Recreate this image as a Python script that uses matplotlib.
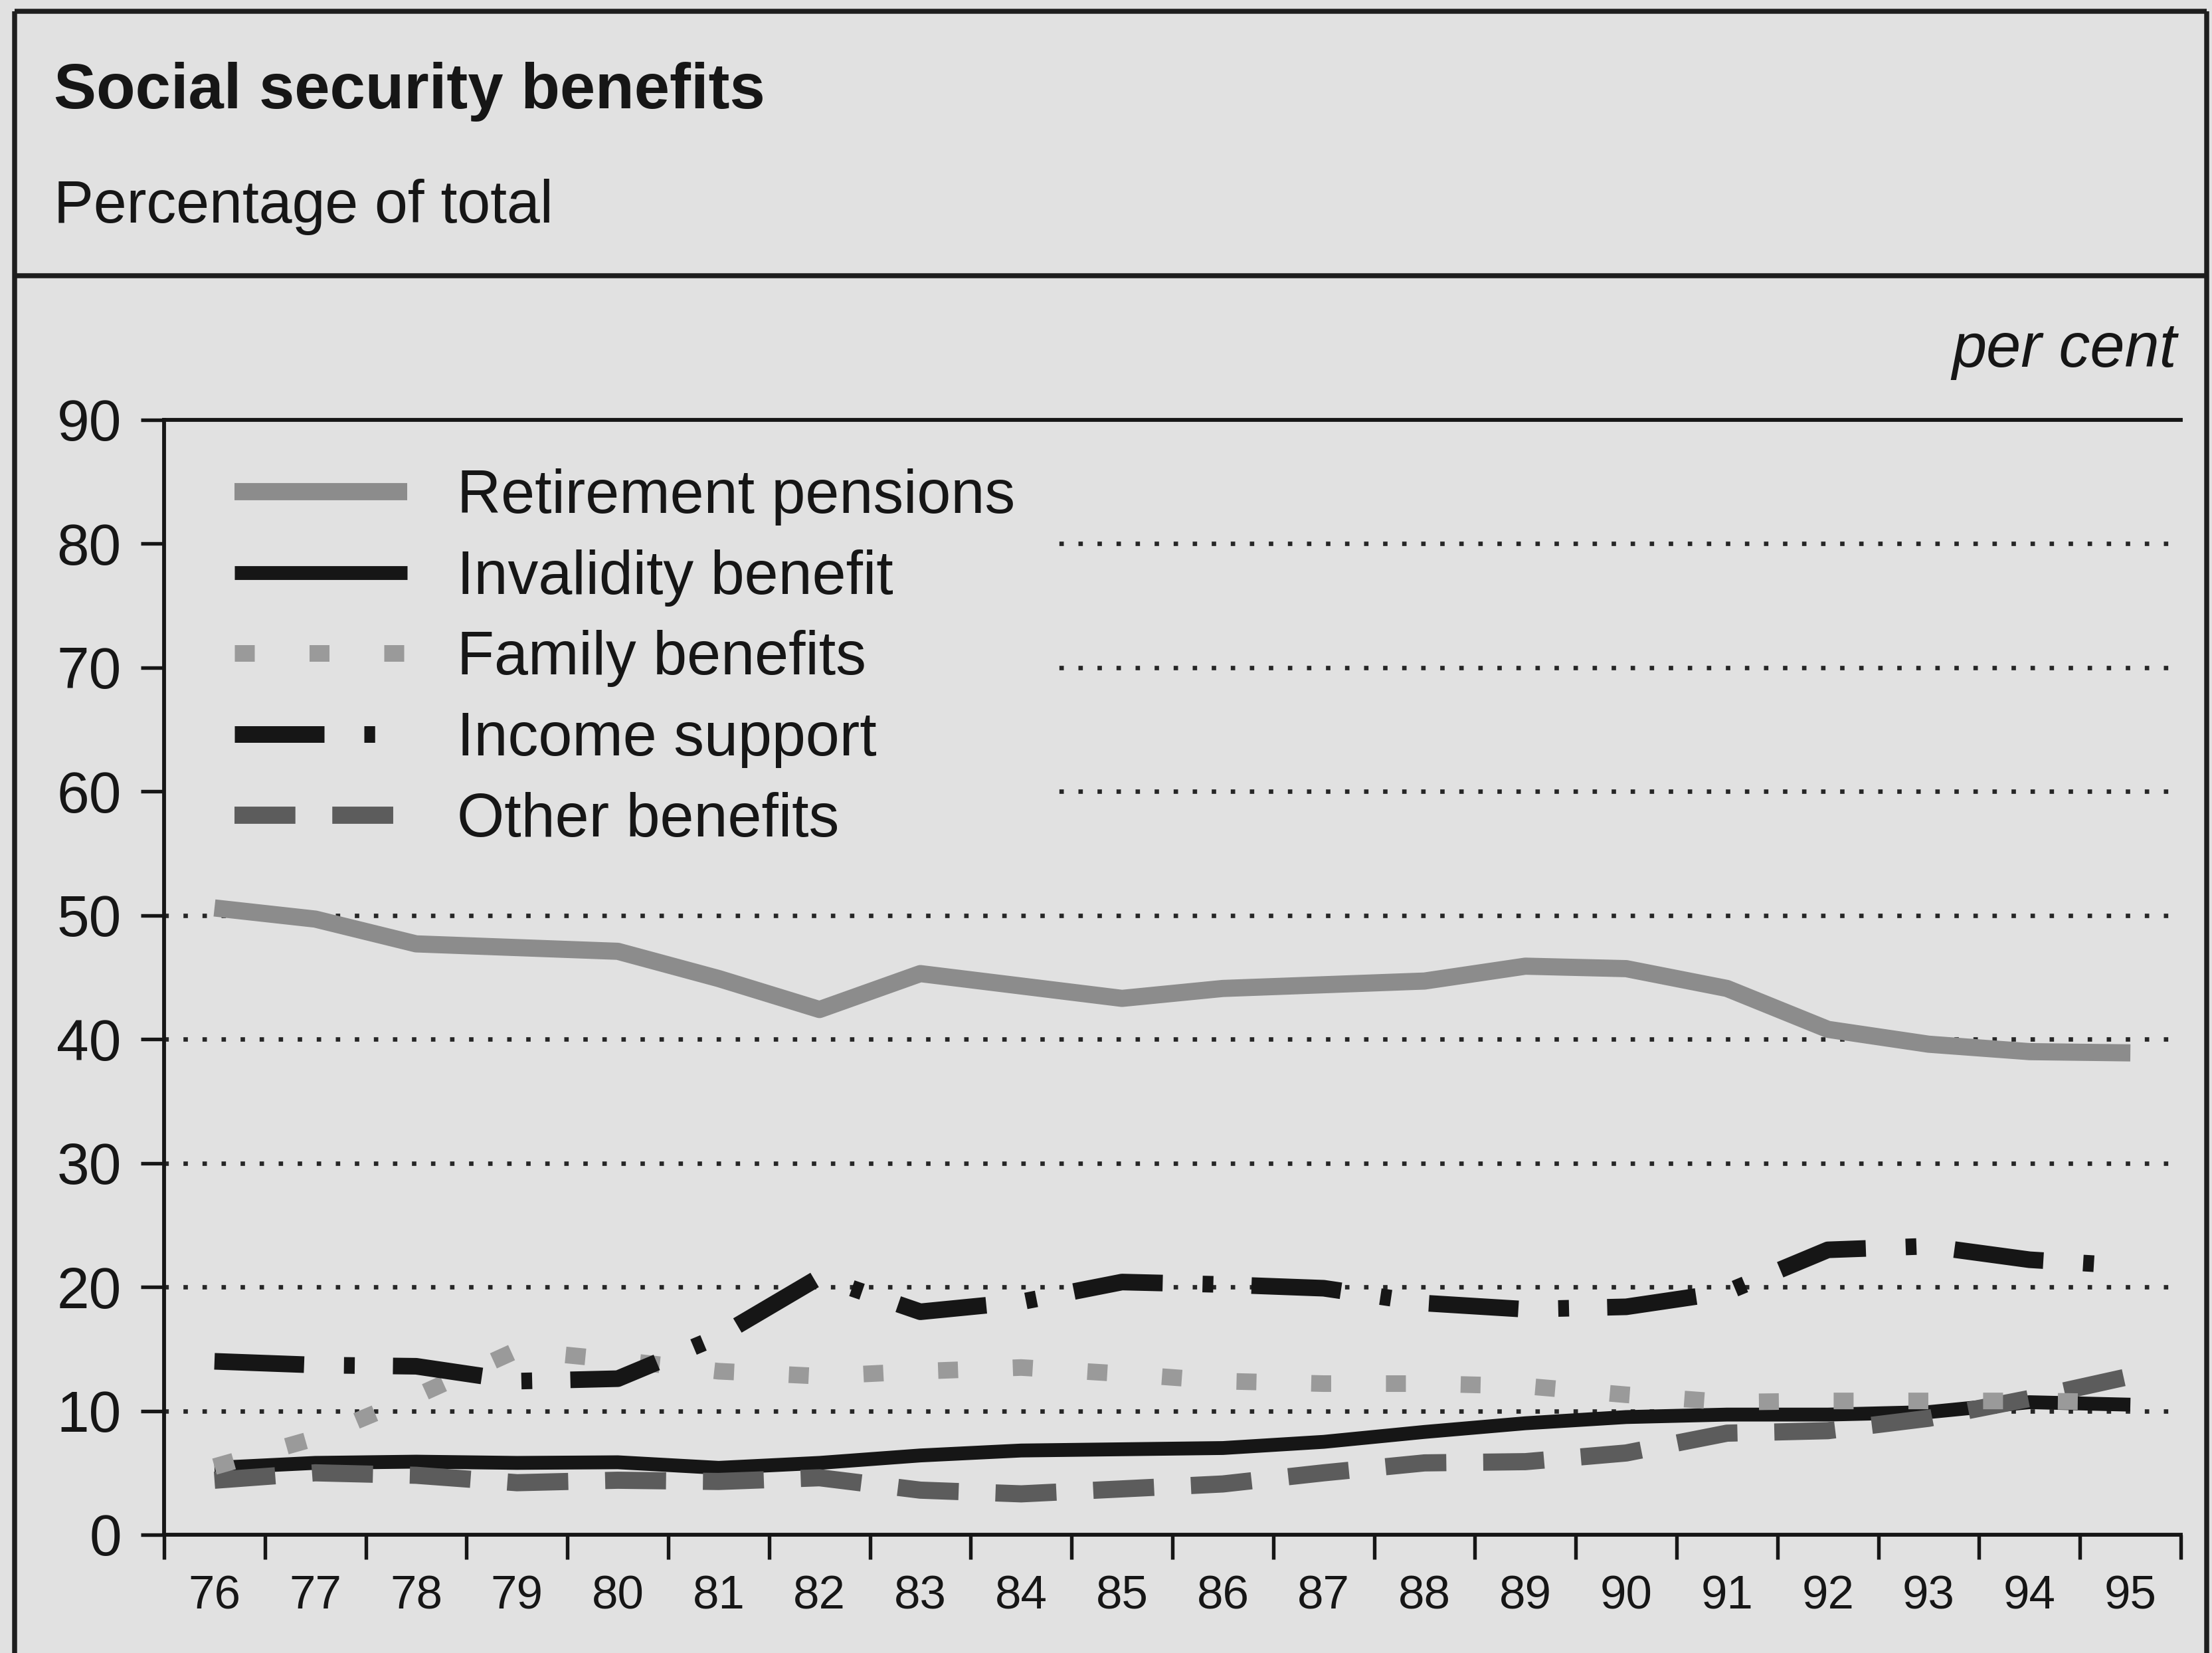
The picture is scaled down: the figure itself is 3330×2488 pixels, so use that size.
import matplotlib
matplotlib.use('Agg')
import matplotlib.pyplot as plt
from matplotlib.patches import Rectangle
from matplotlib.lines import Line2D

# ---------------- data ----------------
years = list(range(76, 96))
year_labels = [str(y) for y in years]
y_ticks = [0, 10, 20, 30, 40, 50, 60, 70, 80, 90]

retirement = [50.6, 49.7, 47.7, 47.4, 47.1, 44.9, 42.4, 45.3, 44.3, 43.3,
              44.1, 44.4, 44.7, 45.9, 45.7, 44.1, 40.8, 39.6, 39.0, 38.9]
invalidity = [5.4, 5.8, 5.9, 5.8, 5.85, 5.4, 5.8, 6.4, 6.8, 6.9,
              7.0, 7.5, 8.3, 9.0, 9.5, 9.7, 9.7, 9.9, 10.7, 10.5]
family = [5.5, 7.8, 11.2, 14.9, 14.1, 13.2, 12.8, 13.2, 13.5, 13.0,
          12.4, 12.2, 12.2, 12.0, 11.3, 10.7, 10.8, 10.8, 10.8, 10.7]
income = [14.0, 13.7, 13.6, 12.4, 12.6, 16.0, 20.8, 18.0, 18.8, 20.4,
          20.2, 19.9, 18.7, 18.2, 18.4, 19.6, 23.0, 23.3, 22.2, 21.7]
other = [4.4, 5.0, 4.8, 4.2, 4.4, 4.3, 4.6, 3.6, 3.3, 3.7,
         4.1, 5.0, 5.8, 5.9, 6.6, 8.2, 8.4, 9.4, 11.0, 12.8]

names = ["Retirement pensions", "Invalidity benefit", "Family benefits",
         "Income support", "Other benefits"]

title = "Social security benefits"
subtitle = "Percentage of total"
unit = "per cent"

# ---------------- style ----------------
BG = '#e1e1e1'
INK = '#161616'
W, H, DPI = 3330, 2488, 300
plt.rcParams['font.family'] = ['Liberation Sans', 'DejaVu Sans']
plt.rcParams['lines.dash_capstyle'] = 'butt'
plt.rcParams['lines.solid_capstyle'] = 'butt'

fig = plt.figure(figsize=(W / DPI, H / DPI), dpi=DPI, facecolor=BG)


def fx(px):
    return px / W


def fy(py):
    return 1 - py / H


ax = fig.add_axes([fx(247), fy(2310), fx(3283) - fx(247), fy(632) - fy(2310)])
ax.set_facecolor(BG)

styles = [
    dict(color='#8c8c8c', lw=6.2, ls='-'),
    dict(color=INK, lw=5.0, ls='-'),
    dict(color='#9a9a9a', lw=6.0, ls=(0, (1.2, 3.3))),
    dict(color=INK, lw=6.0, ls=(0, (5.4, 2.4, 0.65, 2.3))),
    dict(color='#5c5c5c', lw=6.2, ls=(0, (3.55, 2.15))),
]
series = [retirement, invalidity, family, income, other]
zorders = [3, 4, 6, 7, 5]
handles = []
for vals, st, nm, z in zip(series, styles, names, zorders):
    ln, = ax.plot(years, vals, color=st['color'], linewidth=st['lw'],
                  linestyle=st['ls'], label=nm, zorder=z,
                  solid_joinstyle='round', dash_joinstyle='round')
    handles.append(ln)

ax.set_xlim(years[0] - 0.5, years[-1] + 0.5)
ax.set_ylim(y_ticks[0], y_ticks[-1])

bounds = [y - 0.5 for y in years] + [years[-1] + 0.5]
ax.set_xticks(bounds, labels=[''] * len(bounds))
ax.set_xticks(years, labels=year_labels, minor=True)
ax.tick_params(axis='x', which='major', length=8.9, width=1.3, direction='out', color=INK)
ax.tick_params(axis='x', which='minor', length=0, pad=14.4, labelsize=17, labelcolor=INK)
ax.set_yticks(y_ticks)
ax.tick_params(axis='y', length=8.4, width=1.3, direction='out', pad=7,
               labelsize=21, color=INK, labelcolor=INK)

for s in ['left', 'bottom', 'top']:
    ax.spines[s].set_linewidth(1.4)
    ax.spines[s].set_color(INK)
    ax.spines[s].set_zorder(8)
ax.spines['right'].set_visible(False)

# dotted gridlines at the inner ticks only
for t in y_ticks[1:-1]:
    ax.axhline(t, color='#262626', linewidth=1.6, linestyle=(0, (1, 3.3)), zorder=0.5)

# background patch behind the legend that hides the gridlines
ax.add_patch(Rectangle((0, 55 / 90), 0.4417, (89.6 - 55) / 90, transform=ax.transAxes,
                       facecolor=BG, edgecolor='none', zorder=1))

leg = ax.legend(handles, names, loc='upper left',
                bbox_to_anchor=(fx(353), fy(705)), bbox_transform=fig.transFigure,
                frameon=False, fontsize=22, handlelength=2.84, handletextpad=0.82,
                labelspacing=0.39, borderpad=0, borderaxespad=0)
for t in leg.get_texts():
    t.set_color(INK)

# header texts
fig.text(fx(81), fy(163), title, fontsize=23, fontweight='bold', ha='left',
         va='baseline', color=INK)
fig.text(fx(81), fy(335), subtitle, fontsize=21.5, ha='left', va='baseline', color=INK)
fig.text(fx(3277), fy(552), unit, fontsize=22.5, style='italic', ha='right',
         va='baseline', color=INK)

# frame
FR = dict(color='#1e1e1e', linewidth=1.8, transform=fig.transFigure)
fig.add_artist(Line2D([fx(22), fx(22)], [fy(17), fy(2500)], **FR))
fig.add_artist(Line2D([fx(3322), fx(3322)], [fy(17), fy(2500)], **FR))
fig.add_artist(Line2D([fx(22), fx(3322)], [fy(17), fy(17)], **FR))
fig.add_artist(Line2D([fx(22), fx(3322)], [fy(415), fy(415)], **FR))

fig.savefig('out.png', dpi=DPI, facecolor=BG)
